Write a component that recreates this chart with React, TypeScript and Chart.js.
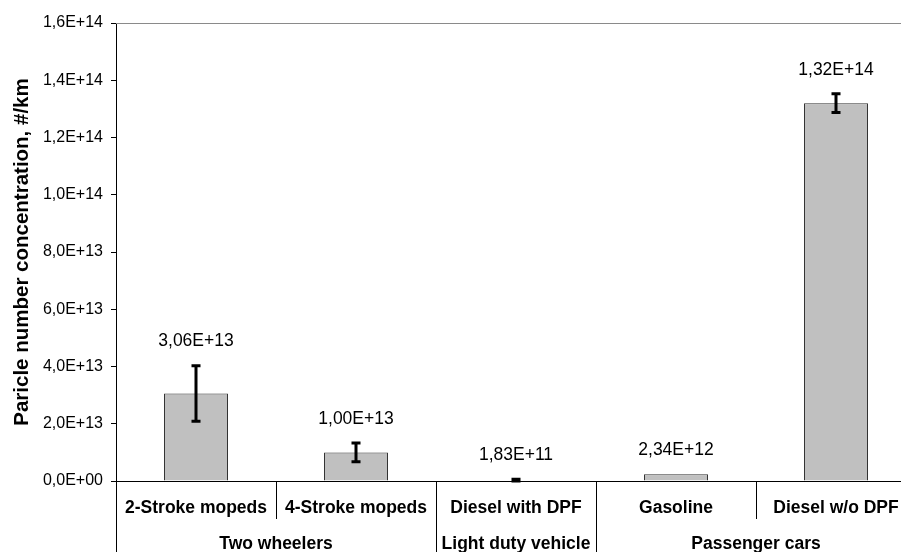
import React, { useEffect, useRef } from "react";
import { Chart, registerables } from "chart.js";

Chart.register(...registerables);

const categories = ["2-Stroke mopeds", "4-Stroke mopeds", "Diesel with DPF", "Gasoline", "Diesel w/o DPF"];
const groups = ["Two wheelers", "Light duty vehicle", "Passenger cars"];
const groupSpans = [2, 1, 2];
const values = [3.06e13, 1.0e13, 1.83e11, 2.34e12, 1.32e14];
const errors = [0.97e13, 0.33e13, 4e11, 0, 0.033e14];
const valueLabels = ["3,06E+13", "1,00E+13", "1,83E+11", "2,34E+12", "1,32E+14"];
const yMax = 1.6e14;
const yStep = 2e13;
const yTitle = "Paricle number concentration, #/km";

const FONT = "'Liberation Sans', Arial, sans-serif";

function fmtSci(v: number): string {
  if (Math.abs(v) < 1) return "0,0E+00";
  const exp = Math.floor(Math.log10(v) + 1e-9);
  const m = v / Math.pow(10, exp);
  return m.toFixed(1).replace(".", ",") + "E+" + String(exp).padStart(2, "0");
}

const overlayPlugin = {
  id: "overlay",
  afterDraw(chart: any) {
    const ctx = chart.ctx as CanvasRenderingContext2D;
    const { left, right, top, bottom } = chart.chartArea;
    const x = chart.scales.x;
    const y = chart.scales.y;
    const H = chart.height;
    const n = categories.length;
    const catW = (right - left) / n;

    ctx.save();
    // top frame line
    ctx.strokeStyle = "#8a8a8a";
    ctx.lineWidth = 1;
    ctx.beginPath();
    ctx.moveTo(left, Math.round(top) + 0.5);
    ctx.lineTo(right, Math.round(top) + 0.5);
    ctx.stroke();

    // x axis line
    ctx.strokeStyle = "#000";
    ctx.beginPath();
    ctx.moveTo(left, Math.round(bottom) + 0.5);
    ctx.lineTo(right, Math.round(bottom) + 0.5);
    ctx.stroke();

    // y axis extension down
    ctx.beginPath();
    ctx.moveTo(Math.round(left) + 0.5, bottom);
    ctx.lineTo(Math.round(left) + 0.5, H);
    ctx.stroke();

    // separators
    const groupBounds = new Set<number>();
    let acc = 0;
    groupSpans.forEach((s) => {
      acc += s;
      groupBounds.add(acc);
    });
    for (let i = 1; i < n; i++) {
      const sx = Math.round(left + i * catW) + 0.5;
      const long = groupBounds.has(i);
      ctx.beginPath();
      ctx.moveTo(sx, bottom);
      ctx.lineTo(sx, long ? H : bottom + 38);
      ctx.stroke();
    }

    // category labels
    ctx.fillStyle = "#000";
    ctx.font = `bold 17.5px ${FONT}`;
    ctx.textAlign = "center";
    ctx.textBaseline = "middle";
    categories.forEach((c, i) => {
      ctx.fillText(c, x.getPixelForValue(i), bottom + 27);
    });
    // group labels
    let start = 0;
    groups.forEach((g, gi) => {
      const gx0 = left + start * catW;
      const gx1 = left + (start + groupSpans[gi]) * catW;
      ctx.fillText(g, (gx0 + gx1) / 2, bottom + 63);
      start += groupSpans[gi];
    });

    // error bars
    ctx.strokeStyle = "#000";
    ctx.lineWidth = 3;
    values.forEach((v, i) => {
      const e = errors[i];
      if (!e) return;
      const cx = x.getPixelForValue(i);
      const y1 = y.getPixelForValue(v + e);
      const y2 = y.getPixelForValue(Math.max(0, v - e));
      ctx.beginPath();
      ctx.moveTo(cx, y1);
      ctx.lineTo(cx, y2);
      ctx.moveTo(cx - 4.5, y1);
      ctx.lineTo(cx + 4.5, y1);
      ctx.moveTo(cx - 4.5, y2);
      ctx.lineTo(cx + 4.5, y2);
      ctx.stroke();
    });

    // value labels
    ctx.font = `17.5px ${FONT}`;
    ctx.textBaseline = "middle";
    values.forEach((v, i) => {
      const cx = x.getPixelForValue(i);
      const ty = y.getPixelForValue(v + errors[i]) - 24;
      ctx.fillText(valueLabels[i], cx, ty);
    });

    // y title
    ctx.font = `bold 20.5px ${FONT}`;
    ctx.translate(28, (top + bottom) / 2);
    ctx.rotate(-Math.PI / 2);
    ctx.textAlign = "center";
    ctx.textBaseline = "alphabetic";
    ctx.fillText(yTitle, 0, 0);
    ctx.restore();
  },
};

export default function App() {
  const ref = useRef<HTMLCanvasElement>(null);
  useEffect(() => {
    if (!ref.current) return;
    const chart = new Chart(ref.current, {
      type: "bar",
      data: {
        labels: categories,
        datasets: [
          {
            data: values,
            backgroundColor: "#c0c0c0",
            borderColor: "#333",
            borderWidth: 1,
            barPercentage: 0.4,
            categoryPercentage: 1,
          },
        ],
      },
      options: {
        animation: false,
        responsive: false,
        devicePixelRatio: 1,
        layout: { padding: { left: 0, right: 4, top: 23, bottom: 71 } },
        plugins: { legend: { display: false }, tooltip: { enabled: false } },
        scales: {
          x: { display: false, offset: true },
          y: {
            min: 0,
            max: yMax,
            afterFit: (s: any) => {
              s.width = 116;
            },
            ticks: {
              stepSize: yStep,
              color: "#000",
              padding: 8,
              font: { family: FONT, size: 16 },
              callback: (v: any) => fmtSci(Number(v)),
            },
            grid: {
              drawOnChartArea: false,
              drawTicks: true,
              tickLength: 5,
              color: "#000",
            },
            border: { display: true, color: "#000", width: 1 },
          },
        },
      },
      plugins: [overlayPlugin],
    });
    return () => chart.destroy();
  }, []);
  return (
    <div
      style={{
        position: "fixed",
        left: 0,
        top: 0,
        width: 901,
        height: 552,
        overflow: "hidden",
        background: "#fff",
      }}
    >
      <canvas ref={ref} width={920} height={552} style={{ display: "block" }} />
    </div>
  );
}
